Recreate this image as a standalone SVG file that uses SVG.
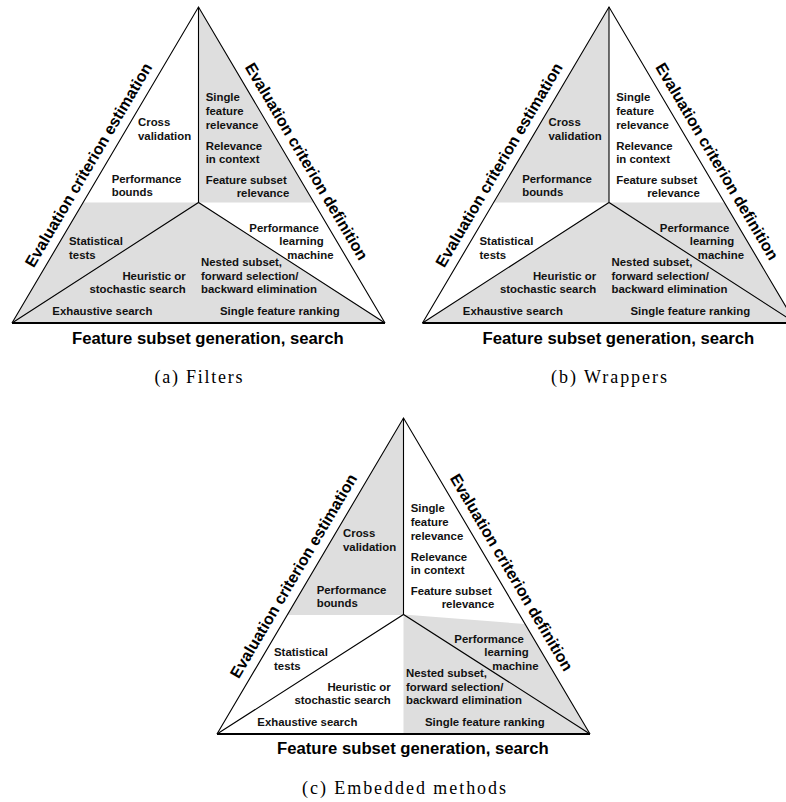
<svg xmlns="http://www.w3.org/2000/svg" width="786" height="802" viewBox="0 0 786 802">
<style>
.bg{fill:#ffffff}
.sh{fill:#dedede;stroke:none}
.ln{fill:none;stroke:#000;stroke-width:1.1}
.base{fill:none;stroke:#000;stroke-width:2}
.s{font-family:"Liberation Sans",Arial,sans-serif;font-weight:bold;font-size:11.4px;fill:#111}
.e{text-anchor:end}
.L{font-family:"Liberation Sans",Arial,sans-serif;font-weight:bold;font-size:16.7px;fill:#000}
.R{font-family:"Liberation Sans",Arial,sans-serif;font-weight:bold;font-size:16px;fill:#000;text-anchor:middle}
.cap{font-family:"Liberation Serif","Times New Roman",serif;font-size:18px;fill:#000;text-anchor:middle}
</style>
<rect class="bg" x="0" y="0" width="786" height="802"/>

<!-- Panel (a) Filters -->
<g id="panel-a">
  <g id="a-shading">
    <polygon class="sh" points="198.5,7 198.5,202.5 314.2,202.5"/>
    <polygon class="sh" points="82.8,202.5 198.5,202.5 385,323 12,323"/>
  </g>
  <g id="a-connectors">
    <path class="ln" d="M12,323 L198.5,7 L385,323"/>
    <path class="ln" d="M198.5,7 L198.5,202.5 M12,323 L198.5,202.5 L385,323"/>
    <path class="base" d="M12,323 L385,323"/>
  </g>
  <g id="a-labels">
    <text class="s" x="138" y="125.7">Cross</text>
    <text class="s" x="138" y="139.7">validation</text>
    <text class="s" x="111.7" y="183">Performance</text>
    <text class="s" x="111.7" y="196.3">bounds</text>
    <text class="s" x="205.7" y="101.3">Single</text>
    <text class="s" x="205.7" y="115">feature</text>
    <text class="s" x="205.7" y="129">relevance</text>
    <text class="s" x="205.7" y="150">Relevance</text>
    <text class="s" x="205.7" y="163.3">in context</text>
    <text class="s" x="205.7" y="184">Feature subset</text>
    <text class="s" x="236.7" y="197.3">relevance</text>
    <text class="s" x="69" y="244.7">Statistical</text>
    <text class="s" x="69" y="258.7">tests</text>
    <text class="s e" x="185.7" y="280">Heuristic or</text>
    <text class="s e" x="185.7" y="293.3">stochastic search</text>
    <text class="s" x="52.3" y="314.7">Exhaustive search</text>
    <text class="s" x="249.3" y="232">Performance</text>
    <text class="s" x="279.3" y="245">learning</text>
    <text class="s" x="287.3" y="259">machine</text>
    <text class="s" x="201" y="266">Nested subset,</text>
    <text class="s" x="201" y="280">forward selection/</text>
    <text class="s" x="201" y="293.3">backward elimination</text>
    <text class="s" x="220" y="314.7">Single feature ranking</text>
    <text class="R" transform="translate(93.2,167.7) rotate(-59.45)">Evaluation criterion estimation</text>
    <text class="R" transform="translate(301.8,164.2) rotate(59.45)">Evaluation criterion definition</text>
    <text class="L" x="72" y="344">Feature subset generation, search</text>
    <text class="cap" x="198.5" y="382.5" textLength="88" lengthAdjust="spacing">(a)  Filters</text>
  </g>
</g>

<!-- Panel (b) Wrappers -->
<g id="panel-b" transform="translate(410.5,0)">
  <g id="b-shading">
    <polygon class="sh" points="198.5,7 198.5,202.5 82.8,202.5"/>
    <polygon class="sh" points="198.5,202.5 314.2,202.5 385,323 12,323"/>
  </g>
  <g id="b-connectors">
    <path class="ln" d="M12,323 L198.5,7 L385,323"/>
    <path class="ln" d="M198.5,7 L198.5,202.5 M12,323 L198.5,202.5 L385,323"/>
    <path class="base" d="M12,323 L385,323"/>
  </g>
  <g id="b-labels">
    <text class="s" x="138" y="125.7">Cross</text>
    <text class="s" x="138" y="139.7">validation</text>
    <text class="s" x="111.7" y="183">Performance</text>
    <text class="s" x="111.7" y="196.3">bounds</text>
    <text class="s" x="205.7" y="101.3">Single</text>
    <text class="s" x="205.7" y="115">feature</text>
    <text class="s" x="205.7" y="129">relevance</text>
    <text class="s" x="205.7" y="150">Relevance</text>
    <text class="s" x="205.7" y="163.3">in context</text>
    <text class="s" x="205.7" y="184">Feature subset</text>
    <text class="s" x="236.7" y="197.3">relevance</text>
    <text class="s" x="69" y="244.7">Statistical</text>
    <text class="s" x="69" y="258.7">tests</text>
    <text class="s e" x="185.7" y="280">Heuristic or</text>
    <text class="s e" x="185.7" y="293.3">stochastic search</text>
    <text class="s" x="52.3" y="314.7">Exhaustive search</text>
    <text class="s" x="249.3" y="232">Performance</text>
    <text class="s" x="279.3" y="245">learning</text>
    <text class="s" x="287.3" y="259">machine</text>
    <text class="s" x="201" y="266">Nested subset,</text>
    <text class="s" x="201" y="280">forward selection/</text>
    <text class="s" x="201" y="293.3">backward elimination</text>
    <text class="s" x="220" y="314.7">Single feature ranking</text>
    <text class="R" transform="translate(93.2,167.7) rotate(-59.45)">Evaluation criterion estimation</text>
    <text class="R" transform="translate(301.8,164.2) rotate(59.45)">Evaluation criterion definition</text>
    <text class="L" x="72" y="344">Feature subset generation, search</text>
    <text class="cap" x="198.5" y="382.5" textLength="116" lengthAdjust="spacing">(b)  Wrappers</text>
  </g>
</g>

<!-- Panel (c) Embedded methods -->
<g id="panel-c" transform="translate(205,411)">
  <g id="c-shading">
    <polygon class="sh" points="198.5,7 198.5,204 82,204"/>
    <polygon class="sh" points="198.5,203.5 320,213 385,323 198.5,323"/>
  </g>
  <g id="c-connectors">
    <path class="ln" d="M12,323 L198.5,7 L385,323"/>
    <path class="ln" d="M198.5,7 L198.5,203.5 M12,323 L198.5,203.5 L385,323"/>
    <path class="base" d="M12,323 L385,323"/>
  </g>
  <g id="c-labels">
    <text class="s" x="138" y="125.7">Cross</text>
    <text class="s" x="138" y="139.7">validation</text>
    <text class="s" x="111.7" y="183">Performance</text>
    <text class="s" x="111.7" y="196.3">bounds</text>
    <text class="s" x="205.7" y="101.3">Single</text>
    <text class="s" x="205.7" y="115">feature</text>
    <text class="s" x="205.7" y="129">relevance</text>
    <text class="s" x="205.7" y="150">Relevance</text>
    <text class="s" x="205.7" y="163.3">in context</text>
    <text class="s" x="205.7" y="184">Feature subset</text>
    <text class="s" x="236.7" y="197.3">relevance</text>
    <text class="s" x="69" y="244.7">Statistical</text>
    <text class="s" x="69" y="258.7">tests</text>
    <text class="s e" x="185.7" y="280">Heuristic or</text>
    <text class="s e" x="185.7" y="293.3">stochastic search</text>
    <text class="s" x="52.3" y="314.7">Exhaustive search</text>
    <text class="s" x="249.3" y="232">Performance</text>
    <text class="s" x="279.3" y="245">learning</text>
    <text class="s" x="287.3" y="259">machine</text>
    <text class="s" x="201" y="266">Nested subset,</text>
    <text class="s" x="201" y="280">forward selection/</text>
    <text class="s" x="201" y="293.3">backward elimination</text>
    <text class="s" x="220" y="314.7">Single feature ranking</text>
    <text class="R" transform="translate(93.2,167.7) rotate(-59.45)">Evaluation criterion estimation</text>
    <text class="R" transform="translate(301.8,164.2) rotate(59.45)">Evaluation criterion definition</text>
    <text class="L" x="72" y="343">Feature subset generation, search</text>
    <text class="cap" x="199" y="382.5" textLength="204" lengthAdjust="spacing">(c)  Embedded methods</text>
  </g>
</g>
</svg>
